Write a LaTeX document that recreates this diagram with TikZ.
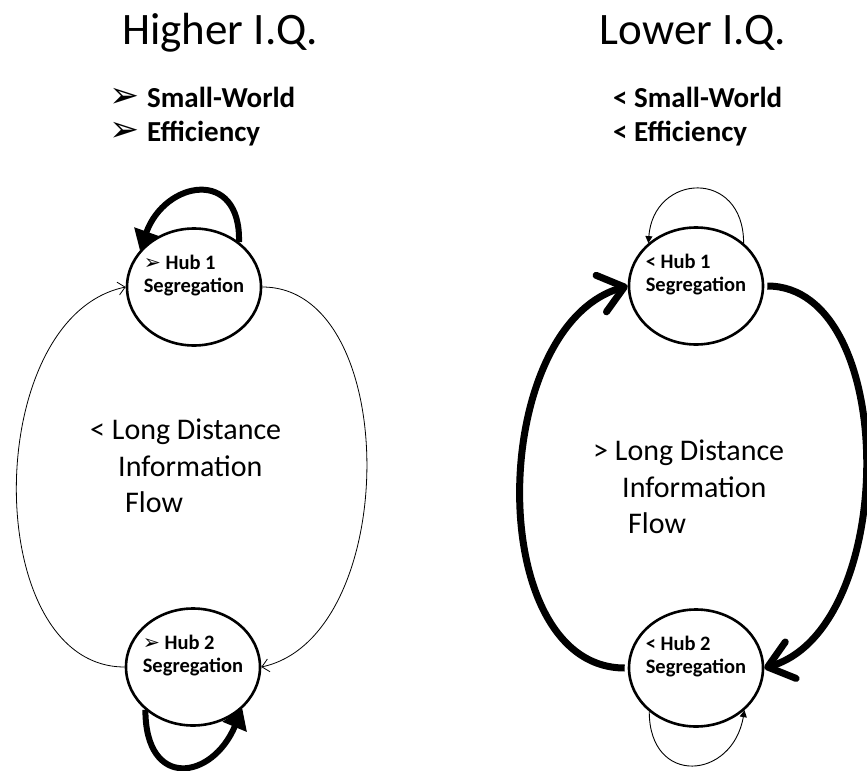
\documentclass[tikz,border=0pt]{standalone}
\usepackage{fontspec}
\setmainfont{Carlito}
\newfontfamily\dejavu{DejaVu Sans}
\usepackage{tikz}
\usetikzlibrary{positioning, shapes.geometric, arrows.meta}
\newcommand{\arrowbullet}{{\dejavu\char"27A2}}

\begin{document}
\begin{tikzpicture}[x=1bp, y=-1bp,
    hub/.style={ellipse, draw, line width=2.6bp, minimum width=134bp, minimum height=117bp, inner sep=0pt},
    hubtext/.style={font=\fontsize{20.5bp}{23bp}\selectfont\bfseries, align=left, yshift=11bp},
    title/.style={font=\fontsize{45bp}{54bp}\selectfont, anchor=base},
    point/.style={font=\fontsize{29bp}{36bp}\selectfont\bfseries, anchor=base west, inner sep=0pt},
    flow/.style={font=\fontsize{30bp}{36bp}\selectfont, anchor=base west, inner sep=0pt},
    weak/.style={line width=0.8bp, -{Straight Barb[length=7bp, width=13bp]}},
    strong/.style={line width=7bp, shorten <=3bp, -{Straight Barb[round, length=24bp, width=38bp]}},
    bigloop/.style={line width=6bp, -{Triangle[length=20bp, width=25bp]}},
    smallloop/.style={line width=0.9bp, -{Triangle[length=7bp, width=7bp]}}]
    \useasboundingbox (0,0) rectangle (867,771);

    % Titles
    \node[title] (hiTitle) at (220,45) {Higher I.Q.};
    \node[title] (loTitle) at (693,45) {Lower I.Q.};

    % Network measures
    \node[point] (hiSmall) at (109,107) {\makebox[38bp][l]{\fontsize{36bp}{36bp}\selectfont\arrowbullet}Small-World};
    \node[point] (hiEff) at (109,141) {\makebox[38bp][l]{\fontsize{36bp}{36bp}\selectfont\arrowbullet}Efficiency};
    \node[point] (loSmall) at (613,107) {< Small-World};
    \node[point] (loEff) at (613,141) {< Efficiency};

    % Hubs
    \node[hub, label={[hubtext]center:{\arrowbullet\ Hub 1\\Segregation}}] (hiH1) at (194,287) {};
    \node[hub, label={[hubtext]center:{\arrowbullet\ Hub 2\\Segregation}}] (hiH2) at (193,667) {};
    \node[hub, label={[hubtext]center:{< Hub 1\\Segregation}}] (loH1) at (696,286) {};
    \node[hub, label={[hubtext]center:{< Hub 2\\Segregation}}] (loH2) at (696,668) {};

    % Long distance flow
    \foreach \n/\x/\y/\t in {hiFlowA/90/439/< Long Distance, hiFlowB/118/476/Information, hiFlowC/125/512/Flow,
                             loFlowA/593/460/> Long Distance, loFlowB/622/497/Information, loFlowC/628/533/Flow} {
      \node[flow] (\n) at (\x,\y) {\t};
    }

    % Links between hubs
    \draw[weak] (hiH2.west) .. controls +(-145,0) and +(-145,30) .. (hiH1.west);
    \draw[weak] (hiH1.east) .. controls +(140,0) and +(140,-30) .. (hiH2.east);
    \draw[strong] (loH2.west) .. controls +(-145,0) and +(-140,40) .. (loH1.west);
    \draw[strong] (loH1.east) .. controls +(135,0) and +(135,-40) .. (loH2.east);

    % Loops on the hubs
    \draw[bigloop] (hiH1.45) .. controls +(2,-75) and +(25,-70) .. (hiH1.146);
    \draw[bigloop] (hiH2.222) .. controls +(0,80) and +(-30,72) .. (hiH2.320);
    \draw[smallloop] (loH1.42) .. controls +(0,-75) and +(5,-70) .. (loH1.138);
    \draw[smallloop] (loH2.223) .. controls +(0,75) and +(-12,70) .. (loH2.319);
\end{tikzpicture}
\end{document}
